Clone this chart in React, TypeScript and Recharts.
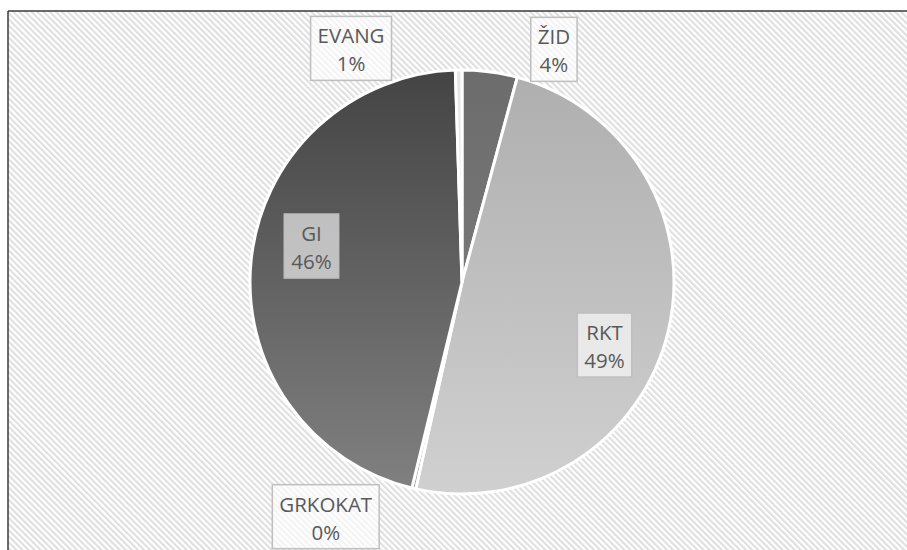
import React from 'react';
import { PieChart, Pie, Cell } from 'recharts';

const categories = ['ŽID', 'RKT', 'GRKOKAT', 'GI', 'EVANG'];
const shares = [4.2, 49.3, 0.3, 45.7, 0.5];
const fills = ['url(#gZid)', 'url(#gRkt)', '#9a9a9a', 'url(#gGi)', '#e6e6e6'];

const data = categories.map((name, i) => ({ name, value: shares[i] }));

// where Excel dropped the data labels (angle nudge in degrees, radius as a share of outerRadius)
const labelPlacement: Record<string, { dAngle: number; r: number }> = {
  'ŽID': { dAngle: 14, r: 1.18 },
  RKT: { dAngle: 10, r: 0.735 },
  GRKOKAT: { dAngle: 17, r: 1.28 },
  GI: { dAngle: 7.5, r: 0.73 },
  EVANG: { dAngle: -24.5, r: 1.22 },
};

const W = 907;
const H = 550;
const FONT = '"Open Sans", "Liberation Sans", sans-serif';
const FONT_SIZE = 20.5;
const RAD = Math.PI / 180;

let ctx: CanvasRenderingContext2D | null = null;
function textWidth(s: string) {
  if (!ctx) ctx = document.createElement('canvas').getContext('2d');
  if (!ctx) return s.length * 11;
  ctx.font = `${FONT_SIZE}px ${FONT}`;
  return ctx.measureText(s).width;
}

function renderLabel(props: any) {
  const { cx, cy, midAngle, outerRadius, name, percent } = props;
  const place = labelPlacement[name] || { dAngle: 0, r: 1.2 };
  const a = (midAngle - place.dAngle) * RAD;
  const r = outerRadius * place.r;
  const x = cx + r * Math.cos(a);
  const y = cy - r * Math.sin(a);
  const pct = `${Math.round(percent * 100)}%`;
  const w = Math.max(textWidth(name), textWidth(pct)) + 14;
  const h = 64;
  return (
    <g key={name}>
      <rect
        x={x - w / 2}
        y={y - h / 2}
        width={w}
        height={h}
        fill="#ffffff"
        fillOpacity={0.62}
        stroke="#bfbfbf"
        strokeWidth={1.5}
      />
      <text
        x={x}
        y={y - 13}
        textAnchor="middle"
        dominantBaseline="central"
        fill="#595959"
        fontFamily={FONT}
        fontSize={FONT_SIZE}
      >
        {name}
      </text>
      <text
        x={x}
        y={y + 15}
        textAnchor="middle"
        dominantBaseline="central"
        fill="#595959"
        fontFamily={FONT}
        fontSize={FONT_SIZE}
      >
        {pct}
      </text>
    </g>
  );
}

export default function App() {
  return (
    <div style={{ position: 'absolute', left: 0, top: 0, width: W, height: H, background: '#fff', overflow: 'hidden' }}>
      <svg width={W} height={H} style={{ position: 'absolute', left: 0, top: 0 }}>
        <defs>
          <pattern id="hatch" width="4.3" height="4.3" patternUnits="userSpaceOnUse" patternTransform="rotate(-45)">
            <rect width="4.3" height="4.3" fill="#ffffff" />
            <rect width="2.1" height="4.3" fill="#dfdfdf" />
          </pattern>
          <linearGradient id="gGi" x1="0" y1="0" x2="0" y2="1">
            <stop offset="0%" stopColor="#444444" />
            <stop offset="100%" stopColor="#808080" />
          </linearGradient>
          <linearGradient id="gRkt" x1="0" y1="0" x2="0" y2="1">
            <stop offset="0%" stopColor="#afafaf" />
            <stop offset="100%" stopColor="#d0d0d0" />
          </linearGradient>
          <linearGradient id="gZid" x1="0" y1="0" x2="0" y2="1">
            <stop offset="0%" stopColor="#6c6c6c" />
            <stop offset="100%" stopColor="#777777" />
          </linearGradient>
        </defs>
        <rect x={8} y={11} width={W - 8} height={H - 11} fill="url(#hatch)" />
        <line x1={8} y1={11} x2={W} y2={11} stroke="#3a3a3a" strokeWidth={1.5} />
        <line x1={8} y1={11} x2={8} y2={H} stroke="#3a3a3a" strokeWidth={1.5} />
      </svg>
      <div style={{ position: 'absolute', left: 0, top: 0 }}>
        <PieChart width={W} height={H} margin={{ top: 0, right: 0, bottom: 0, left: 0 }}>
          <Pie
            data={data}
            dataKey="value"
            nameKey="name"
            cx={462}
            cy={282}
            outerRadius={212}
            startAngle={90}
            endAngle={-270}
            stroke="#ffffff"
            strokeWidth={3}
            label={renderLabel}
            labelLine={false}
            isAnimationActive={false}
          >
            {data.map((d, i) => (
              <Cell key={d.name} fill={fills[i]} />
            ))}
          </Pie>
        </PieChart>
      </div>
    </div>
  );
}
